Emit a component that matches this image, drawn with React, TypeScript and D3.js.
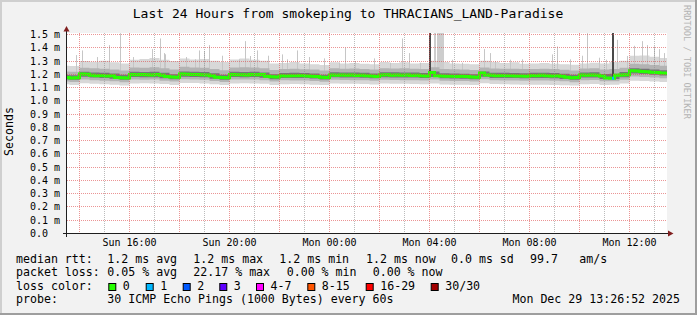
import React from 'react';
import * as d3 from 'd3';

// ---------- data ----------
const startTime = new Date(2025, 11, 28, 13, 30);
const endTime = new Date(2025, 11, 29, 13, 30);
const binStart = new Date(2025, 11, 28, 13, 12);

// median rtt (ms), 12-minute steps from Sun 13:12
const medianStepMin = 12;
const medianMs = [
  1.175, 1.175, 1.172, 1.174, 1.203, 1.200, 1.192, 1.190, 1.191, 1.188,
  1.189, 1.176, 1.174, 1.173, 1.198, 1.196, 1.199, 1.197, 1.195, 1.198,
  1.193, 1.184, 1.180, 1.177, 1.203, 1.200, 1.198, 1.199, 1.197, 1.195,
  1.190, 1.178, 1.175, 1.174, 1.198, 1.196, 1.197, 1.195, 1.198, 1.196,
  1.199, 1.186, 1.181, 1.180, 1.190, 1.188, 1.190, 1.189, 1.191, 1.188,
  1.186, 1.184, 1.177, 1.176, 1.195, 1.193, 1.194, 1.192, 1.195, 1.191,
  1.192, 1.190, 1.187, 1.184, 1.194, 1.196, 1.193, 1.195, 1.192, 1.194,
  1.191, 1.193, 1.190, 1.188, 1.214, 1.190, 1.187, 1.185, 1.186, 1.184,
  1.185, 1.183, 1.180, 1.177, 1.210, 1.195, 1.192, 1.190, 1.191, 1.189,
  1.190, 1.188, 1.187, 1.186, 1.191, 1.189, 1.192, 1.190, 1.188, 1.190,
  1.186, 1.178, 1.174, 1.176, 1.194, 1.192, 1.195, 1.193, 1.188, 1.172,
  1.170, 1.193, 1.195, 1.196, 1.226, 1.224, 1.222, 1.220, 1.216, 1.214,
  1.210, 1.208,
];

// smoke percentiles (ms), 24-minute steps from Sun 13:12
const smokeStepMin = 24;
const lightHi = [
  1.265, 1.262, 1.300, 1.295, 1.302, 1.290, 1.282, 1.310, 1.316, 1.322,
  1.310, 1.300, 1.320, 1.312, 1.316, 1.302, 1.292, 1.312, 1.320, 1.310,
  1.302, 1.282, 1.286, 1.292, 1.282, 1.276, 1.270, 1.290, 1.282, 1.286,
  1.280, 1.276, 1.292, 1.286, 1.290, 1.282, 1.286, 1.302, 1.292, 1.282,
  1.280, 1.276, 1.302, 1.292, 1.286, 1.290, 1.280, 1.282, 1.286, 1.280,
  1.276, 1.272, 1.282, 1.288, 1.282, 1.292, 1.302, 1.340, 1.342, 1.332,
  1.322,
];
const midHi = [
  1.222, 1.220, 1.250, 1.246, 1.242, 1.236, 1.228, 1.252, 1.250, 1.254,
  1.246, 1.236, 1.256, 1.252, 1.250, 1.240, 1.230, 1.252, 1.254, 1.252,
  1.246, 1.232, 1.240, 1.242, 1.238, 1.236, 1.228, 1.245, 1.242, 1.244,
  1.240, 1.236, 1.246, 1.244, 1.245, 1.242, 1.240, 1.254, 1.240, 1.238,
  1.236, 1.232, 1.252, 1.244, 1.242, 1.242, 1.240, 1.240, 1.242, 1.240,
  1.234, 1.228, 1.244, 1.245, 1.236, 1.240, 1.250, 1.280, 1.276, 1.270,
  1.264,
];
const darkHi = [
  1.195, 1.192, 1.220, 1.213, 1.212, 1.206, 1.196, 1.220, 1.218, 1.219,
  1.212, 1.200, 1.222, 1.220, 1.218, 1.208, 1.196, 1.220, 1.218, 1.219,
  1.214, 1.200, 1.210, 1.211, 1.210, 1.206, 1.197, 1.215, 1.214, 1.214,
  1.212, 1.206, 1.216, 1.215, 1.214, 1.213, 1.210, 1.222, 1.208, 1.206,
  1.205, 1.200, 1.222, 1.212, 1.211, 1.210, 1.208, 1.211, 1.212, 1.210,
  1.204, 1.196, 1.214, 1.215, 1.202, 1.205, 1.217, 1.246, 1.242, 1.236,
  1.230,
];
const darkLo = [
  1.160, 1.158, 1.182, 1.175, 1.172, 1.166, 1.158, 1.180, 1.178, 1.178,
  1.170, 1.162, 1.182, 1.180, 1.178, 1.166, 1.158, 1.180, 1.178, 1.180,
  1.174, 1.163, 1.172, 1.172, 1.172, 1.168, 1.160, 1.177, 1.176, 1.176,
  1.174, 1.170, 1.178, 1.176, 1.176, 1.175, 1.172, 1.180, 1.170, 1.168,
  1.167, 1.163, 1.182, 1.173, 1.172, 1.172, 1.170, 1.172, 1.173, 1.171,
  1.165, 1.158, 1.175, 1.176, 1.164, 1.165, 1.177, 1.206, 1.202, 1.196,
  1.191,
];
const midLo = [
  1.145, 1.142, 1.160, 1.156, 1.152, 1.148, 1.140, 1.160, 1.158, 1.160,
  1.152, 1.145, 1.162, 1.160, 1.158, 1.150, 1.142, 1.160, 1.160, 1.160,
  1.155, 1.146, 1.155, 1.154, 1.154, 1.150, 1.143, 1.158, 1.157, 1.156,
  1.155, 1.152, 1.158, 1.157, 1.156, 1.155, 1.153, 1.160, 1.152, 1.150,
  1.150, 1.146, 1.162, 1.155, 1.154, 1.154, 1.152, 1.153, 1.154, 1.152,
  1.147, 1.141, 1.156, 1.157, 1.147, 1.148, 1.158, 1.184, 1.180, 1.176,
  1.171,
];
const lightLo = [
  1.125, 1.120, 1.132, 1.128, 1.125, 1.122, 1.115, 1.130, 1.132, 1.130,
  1.126, 1.120, 1.135, 1.134, 1.130, 1.125, 1.120, 1.130, 1.132, 1.130,
  1.128, 1.120, 1.125, 1.126, 1.125, 1.122, 1.120, 1.130, 1.128, 1.128,
  1.126, 1.124, 1.130, 1.128, 1.128, 1.126, 1.125, 1.130, 1.124, 1.122,
  1.122, 1.120, 1.132, 1.126, 1.125, 1.124, 1.122, 1.122, 1.122, 1.120,
  1.118, 1.115, 1.125, 1.126, 1.120, 1.122, 1.130, 1.152, 1.150, 1.146,
  1.142,
];

// single-column outliers (max rtt, ms)
const spikeTimes = [
  '2025-12-28T13:52', '2025-12-28T14:06', '2025-12-28T14:42', '2025-12-28T15:10',
  '2025-12-28T15:36', '2025-12-28T16:08', '2025-12-28T16:54', '2025-12-28T17:14',
  '2025-12-28T17:22', '2025-12-28T17:25', '2025-12-28T18:16', '2025-12-28T18:37',
  '2025-12-28T18:47', '2025-12-28T18:58', '2025-12-28T19:10', '2025-12-28T19:42',
  '2025-12-28T20:22', '2025-12-28T20:37', '2025-12-28T20:49', '2025-12-28T21:06',
  '2025-12-28T21:32', '2025-12-28T22:06', '2025-12-28T22:18', '2025-12-28T22:42',
  '2025-12-28T23:10', '2025-12-28T23:46', '2025-12-29T00:22', '2025-12-29T00:38',
  '2025-12-29T01:01', '2025-12-29T01:46', '2025-12-29T02:25', '2025-12-29T02:55',
  '2025-12-29T03:10', '2025-12-29T03:37', '2025-12-29T04:54', '2025-12-29T05:18',
  '2025-12-29T06:10', '2025-12-29T06:25', '2025-12-29T06:37', '2025-12-29T07:13',
  '2025-12-29T07:42', '2025-12-29T08:54', '2025-12-29T09:06', '2025-12-29T09:37',
  '2025-12-29T10:06', '2025-12-29T10:18', '2025-12-29T10:46', '2025-12-29T11:04',
  '2025-12-29T11:30', '2025-12-29T11:54', '2025-12-29T12:10', '2025-12-29T12:30',
  '2025-12-29T12:42', '2025-12-29T12:58', '2025-12-29T13:10', '2025-12-29T13:22',
];
const spikeMs = [
  1.345, 1.38, 1.33, 1.42,
  1.51, 1.33, 1.39, 1.47,
  1.36, 1.351, 1.33, 1.313,
  1.38, 1.376, 1.42, 1.34,
  1.313, 1.45, 1.338, 1.38,
  1.34, 1.35, 1.313, 1.38,
  1.33, 1.32, 1.288, 1.40,
  1.30, 1.32, 1.288, 1.47,
  1.36, 1.288, 1.31, 1.288,
  1.39, 1.36, 1.30, 1.31,
  1.313, 1.35, 1.41, 1.313,
  1.34, 1.51, 1.325, 1.31,
  1.46, 1.338, 1.415, 1.45,
  1.42, 1.41, 1.39, 1.36,
];
// light columns running off the top of the graph
const offTopTimes = ['2025-12-29T04:10', '2025-12-29T04:17', '2025-12-29T04:20', '2025-12-29T04:25', '2025-12-29T04:29'];
// dense dark columns running off the top
const darkColumnTimes = ['2025-12-29T04:00', '2025-12-29T11:18'];
// loss event on the median line
const lossTimes = ['2025-12-29T11:17'];
const lossColorsAt = ['#00b8ff'];

const yTicks = [0, 0.1, 0.2, 0.3, 0.4, 0.5, 0.6, 0.7, 0.8, 0.9, 1.0, 1.1, 1.2, 1.3, 1.4, 1.5];
const yTickLabels = ['0.0', '0.1 m', '0.2 m', '0.3 m', '0.4 m', '0.5 m', '0.6 m', '0.7 m', '0.8 m', '0.9 m', '1.0 m', '1.1 m', '1.2 m', '1.3 m', '1.4 m', '1.5 m'];
const xLabelTimes = ['2025-12-28T16:00', '2025-12-28T20:00', '2025-12-29T00:00', '2025-12-29T04:00', '2025-12-29T08:00', '2025-12-29T12:00'];
const xLabels = ['Sun 16:00', 'Sun 20:00', 'Mon 00:00', 'Mon 04:00', 'Mon 08:00', 'Mon 12:00'];

const lossLabels = ['0', '1', '2', '3', '4-7', '8-15', '16-29', '30/30'];
const lossColors = ['#26ff00', '#00b8ff', '#0059ff', '#5e00ff', '#ff00ff', '#ff5500', '#ff0000', '#a10000'];

const titleText = 'Last 24 Hours from smokeping to THRACIANS_LAND-Paradise';
const row1 = ['median rtt:', '1.2 ms avg', '1.2 ms max', '1.2 ms min', '1.2 ms now', '0.0 ms sd', '99.7', 'am/s'];
const row2 = ['packet loss:', '0.05 % avg', '22.17 % max', '0.00 % min', '0.00 % now'];
const probeText = '30 ICMP Echo Pings (1000 Bytes) every 60s';
const dateText = 'Mon Dec 29 13:26:52 2025';

// ---------- layout ----------
const W = 697;
const H = 315;
const X0 = 67;
const X1 = 667;
const Y0 = 233.5;
const YTOP = 34.5;
const CANVAS_TOP = 33;
const MONO = "'DejaVu Sans Mono', monospace";
const row1X = [16, 107.3, 193.3, 279.3, 366, 451, 530, 579.3];
const row2X = [16, 107.3, 193.3, 286.7, 372.7];
const boxX = [108.3, 145.7, 182.7, 219.3, 256, 307.3, 365.7, 430.7];

const ext = (a: number[]) => [...a, a[a.length - 1]];

export default function App() {
  const x = d3.scaleTime().domain([startTime, endTime]).range([X0, X1]);
  const y = d3.scaleLinear().domain([0, 1.5]).range([Y0, YTOP]);
  const tAt = (i: number, step: number) => new Date(binStart.getTime() + i * step * 60000);
  const snap = (v: number) => Math.round(v - 0.5) + 0.5;

  const band = (lo: number[], hi: number[]) => {
    const L = ext(lo);
    const Hh = ext(hi);
    return d3
      .area<number>()
      .x((_, i) => x(tAt(i, smokeStepMin)))
      .y0((_, i) => y(L[i]))
      .y1((d) => y(d))
      .curve(d3.curveStepAfter)(Hh) as string;
  };
  const med = ext(medianMs);
  const medianPath = d3
    .line<number>()
    .x((_, i) => x(tAt(i, medianStepMin)))
    .y((d) => y(d))
    .curve(d3.curveStepAfter)(med) as string;

  const medianAt = (t: Date) => {
    const i = Math.floor((t.getTime() - binStart.getTime()) / (medianStepMin * 60000));
    return medianMs[Math.max(0, Math.min(medianMs.length - 1, i))];
  };

  const hours = d3.timeHour.range(new Date(startTime.getTime() + 1), endTime);
  const majorV = hours.filter((h) => h.getHours() % 2 === 0);
  const minorV = hours.filter((h) => h.getHours() % 2 === 1);

  const majorCol = 'rgba(222,79,79,0.6)';
  const minorCol = 'rgba(143,143,143,0.6)';

  return (
    <div style={{ position: 'fixed', left: 0, top: 0 }}>
      <svg width={W} height={H} viewBox={`0 0 ${W} ${H}`} style={{ display: 'block' }}>
        <defs>
          <clipPath id="plot">
            <rect x={X0} y={CANVAS_TOP} width={X1 - X0} height={Y0 - CANVAS_TOP} />
          </clipPath>
        </defs>
        <rect x={0} y={0} width={W} height={H} fill="#f2f2f2" />
        {/* 3d border */}
        <path d={`M0,0H${W}V2H2V${H}H0Z`} fill="#cfcfcf" />
        <path d={`M${W},${H}H0V${H - 2}H${W - 2}V0H${W}Z`} fill="#9e9e9e" />
        <rect x={X0} y={CANVAS_TOP} width={X1 - X0} height={Y0 - CANVAS_TOP} fill="#ffffff" />

        <g clipPath="url(#plot)">
          <path d={band(lightLo, lightHi)} fill="#d8d8d8" />
          {spikeTimes.map((s, i) => {
            const t = new Date(s);
            const x0 = Math.round(x(t));
            return (
              <rect key={'s' + i} x={x0} width={1} y={y(spikeMs[i])} height={y(1.2) - y(spikeMs[i])} fill="#c6c6c6" />
            );
          })}
          {offTopTimes.map((s, i) => {
            const t = new Date(s);
            const x0 = Math.round(x(t));
            return <rect key={'o' + i} x={x0} width={2} y={CANVAS_TOP} height={y(1.2) - CANVAS_TOP} fill="#cdcdcd" />;
          })}
          <path d={band(midLo, midHi)} fill="#b3b3b3" />
          <path d={band(darkLo, darkHi)} fill="#767676" />
          {darkColumnTimes.map((s, i) => {
            const t = new Date(s);
            const x0 = Math.round(x(t));
            return <rect key={'d' + i} x={x0} width={2} y={CANVAS_TOP} height={y(medianAt(t)) - CANVAS_TOP} fill="#4a4a4a" />;
          })}
          <path d={medianPath} fill="none" stroke="#26ff00" strokeWidth={3} />
          {lossTimes.map((s, i) => {
            const t = new Date(s);
            const x0 = Math.round(x(t));
            return <rect key={'l' + i} x={x0} width={2} y={y(medianAt(t)) - 1.5} height={3} fill={lossColorsAt[i]} />;
          })}
        </g>

        {/* grid */}
        <g strokeDasharray="1,1" strokeWidth={1} shapeRendering="crispEdges">
          {minorV.map((h, i) => (
            <line key={'mv' + i} x1={snap(x(h))} x2={snap(x(h))} y1={CANVAS_TOP} y2={Y0} stroke={minorCol} />
          ))}
          {majorV.map((h, i) => (
            <line key={'Mv' + i} x1={snap(x(h))} x2={snap(x(h))} y1={CANVAS_TOP} y2={Y0} stroke={majorCol} />
          ))}
          {yTicks.filter((v) => v > 0).map((v, i) => (
            <line key={'h' + i} x1={X0} x2={X1} y1={snap(y(v))} y2={snap(y(v))} stroke={majorCol} />
          ))}
        </g>

        {/* axes */}
        <line x1={X0 - 4} x2={X1 + 1} y1={Y0} y2={Y0} stroke="#1f1f1f" strokeWidth={1} shapeRendering="crispEdges" />
        <line x1={X0 - 0.5} x2={X0 - 0.5} y1={Y0 + 3} y2={30} stroke="#1f1f1f" strokeWidth={1} shapeRendering="crispEdges" />
        <path d={`M${X1 + 1},${Y0 - 3}L${X1 + 6.5},${Y0}L${X1 + 1},${Y0 + 3}Z`} fill="#801f1f" />
        <path d={`M${X0 - 3.5},31.5L${X0 - 0.5},26L${X0 + 2.5},31.5Z`} fill="#801f1f" />

        {/* y labels */}
        {yTicks.map((v, i) => (
          <text key={'yl' + i} x={30} y={snap(y(v)) + 3.5} fontFamily={MONO} fontSize={10} fill="#000">
            {yTickLabels[i]}
          </text>
        ))}
        {/* x labels */}
        {xLabelTimes.map((s, i) => (
          <text key={'xl' + i} x={x(new Date(s))} y={246} textAnchor="middle" fontFamily={MONO} fontSize={10} fill="#000">
            {xLabels[i]}
          </text>
        ))}

        {/* title */}
        <text x={348} y={17.7} textAnchor="middle" fontFamily={MONO} fontSize={13} fill="#000">
          {titleText}
        </text>
        {/* vertical label */}
        <text transform="translate(13.3,131.5) rotate(-90)" textAnchor="middle" fontFamily={MONO} fontSize={11.6} fill="#000">
          Seconds
        </text>
        {/* watermark */}
        <text transform="translate(683.5,5) rotate(90)" fontFamily={MONO} fontSize={8.6} fill="#b4b4b4">
          RRDTOOL / TOBI OETIKER
        </text>

        {/* legend */}
        <g fontFamily={MONO} fontSize={11.6} fill="#000">
          {row1.map((s, i) => (
            <text key={'r1' + i} x={row1X[i]} y={263}>{s}</text>
          ))}
          {row2.map((s, i) => (
            <text key={'r2' + i} x={row2X[i]} y={276}>{s}</text>
          ))}
          <text x={16} y={289.5}>loss color:</text>
          {lossLabels.map((s, i) => (
            <g key={'lc' + i}>
              <rect x={boxX[i] + 0.5} y={283.5} width={7} height={7} fill={lossColors[i]} stroke="#000" strokeWidth={1} />
              <text x={boxX[i] + 14.5} y={289.5}>{s}</text>
            </g>
          ))}
          <text x={16} y={303}>probe:</text>
          <text x={107.3} y={303}>{probeText}</text>
          <text x={680} y={303} textAnchor="end">{dateText}</text>
        </g>
      </svg>
    </div>
  );
}
